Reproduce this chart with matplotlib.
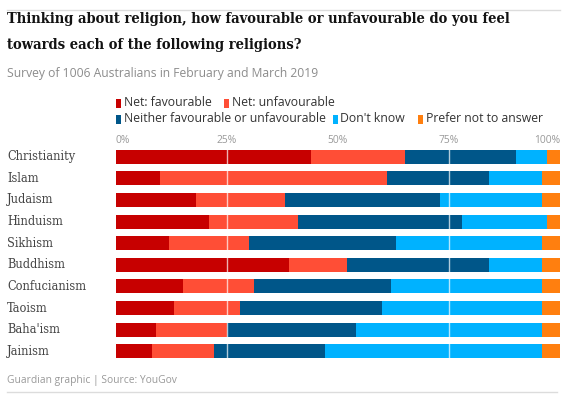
import matplotlib
matplotlib.use("Agg")
import matplotlib.pyplot as plt
from matplotlib.patches import Rectangle
from matplotlib.lines import Line2D

W, H = 565, 399
DPI = 100

categories = ["Christianity", "Islam", "Judaism", "Hinduism", "Sikhism",
              "Buddhism", "Confucianism", "Taoism", "Baha'ism", "Jainism"]
series_names = ["Net: favourable", "Net: unfavourable",
                "Neither favourable or unfavourable", "Don't know",
                "Prefer not to answer"]
favourable   = [44, 10, 18, 21, 12, 39, 15, 13, 9, 8]
unfavourable = [21, 51, 20, 20, 18, 13, 16, 15, 16, 14]
neither      = [25, 23, 35, 37, 33, 32, 31, 32, 29, 25]
dont_know    = [7, 12, 23, 19, 33, 12, 34, 36, 42, 49]
prefer_not   = [3, 4, 4, 3, 4, 4, 4, 4, 4, 4]
tick_values = [0, 25, 50, 75, 100]
tick_labels = ["0%", "25%", "50%", "75%", "100%"]

colors = ["#c70000", "#ff4e36", "#005689", "#00b2ff", "#ff7f0f"]

fig = plt.figure(figsize=(W / DPI, H / DPI), dpi=DPI)

def fx(px):
    return px / W

def fy(py):
    return 1 - py / H

# axes for bars
left, right = 116, 560
top, bottom = 146, 362
ax = fig.add_axes([fx(left), fy(bottom), fx(right) - fx(left), (bottom - top) / H])
series = [favourable, unfavourable, neither, dont_know, prefer_not]
ypos = list(range(len(categories)))
lefts = [0] * len(categories)
for vals, c in zip(series, colors):
    ax.barh(ypos, vals, left=lefts, height=0.65, color=c, linewidth=0)
    lefts = [a + b for a, b in zip(lefts, vals)]
ax.set_xlim(0, 100)
ax.set_ylim(len(categories) - 0.5, -0.5)
ax.axis("off")
for v in [25, 75]:
    ax.axvline(v, color="white", lw=1, alpha=0.7, zorder=5)

# category labels
for i, cat in enumerate(categories):
    ax.text(-109 / 444 * 100, i, cat, ha="left", va="center",
            fontsize=9.1, family="DejaVu Serif", stretch="condensed",
            color="#444444", transform=ax.transData, clip_on=False)

# tick labels
for v, lab in zip(tick_values, tick_labels):
    ha = "left" if v == 0 else ("right" if v == 100 else "center")
    ax.text(v, -0.5 - 0.02, lab, ha=ha, va="bottom", fontsize=7.4,
            family="Open Sans", color="#999999", transform=ax.transData,
            clip_on=False)

# rules
fig.add_artist(Line2D([fx(7), fx(560)], [fy(10), fy(10)], color="#dcdcdc", lw=1))
fig.add_artist(Line2D([fx(7), fx(557)], [fy(392), fy(392)], color="#dcdcdc", lw=1))

# title
fig.text(fx(7), fy(19), "Thinking about religion, how favourable or unfavourable do you feel",
         fontsize=10.5, fontweight="bold", family="DejaVu Serif", stretch="condensed",
         color="#121212", ha="left", va="center")
fig.text(fx(7), fy(45), "towards each of the following religions?",
         fontsize=10.5, fontweight="bold", family="DejaVu Serif", stretch="condensed",
         color="#121212", ha="left", va="center")
fig.text(fx(7), fy(73), "Survey of 1006 Australians in February and March 2019",
         fontsize=8.7, family="Open Sans", color="#8c8c8c", ha="left", va="center")
fig.text(fx(7), fy(380), "Guardian graphic | Source: YouGov",
         fontsize=7.4, family="Open Sans", color="#999999", ha="left", va="center")

# legend
legend_items = [
    (116, 103, 0), (224, 103, 1),
    (116, 119, 2), (333, 119, 3), (418, 119, 4),
]
for x, y, k in legend_items:
    fig.add_artist(Rectangle((fx(x), fy(y + 4.5)), 5 / W, 9 / H,
                             color=colors[k], lw=0, transform=fig.transFigure))
    fig.text(fx(x + 7.5), fy(y), series_names[k], fontsize=8.8, family="Open Sans",
             color="#333333", ha="left", va="center")

fig.savefig("out.png", dpi=DPI, facecolor="white")
